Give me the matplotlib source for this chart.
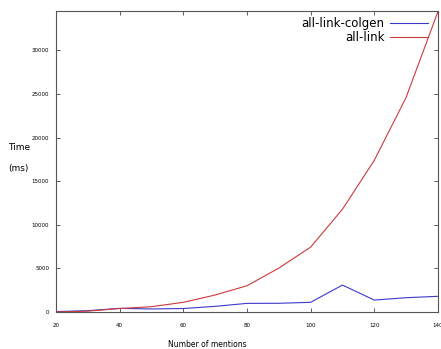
import matplotlib.pyplot as plt

mentions = [20, 30, 40, 50, 60, 70, 80, 90, 100, 110, 120, 130, 140]
all_link_colgen = [50, 150, 420, 350, 400, 650, 990, 1000, 1110, 3090, 1370, 1640, 1800]
all_link = [0, 100, 400, 610, 1110, 1950, 3010, 5030, 7440, 11780, 17390, 24600, 34440]

fig = plt.figure(figsize=(4.41, 3.49), dpi=100)
ax = fig.add_axes([0.127, 0.106, 0.866, 0.862])

ax.plot(mentions, all_link_colgen, color='#3a3acc', lw=0.8, label='all-link-colgen')
ax.plot(mentions, all_link, color='#cc3a3a', lw=0.8, label='all-link')

ax.set_xlim(20, 140)
ax.set_ylim(0, 34500)
ax.set_xticks(range(20, 141, 20))
ax.set_yticks(range(0, 30001, 5000))
ax.tick_params(direction='in', length=3, width=0.6, labelsize=4, top=True, right=True,
               colors='#444444', labelcolor='black')
ax.tick_params(axis='x', pad=8)
ax.tick_params(axis='y', pad=5)
for s in ax.spines.values():
    s.set_linewidth(0.8)
    s.set_color('#555555')

leg = ax.legend(loc='upper right', frameon=False, markerfirst=False, fontsize=8.5,
                handlelength=3.2, borderaxespad=0.1, labelspacing=0.1, handletextpad=0.5,
                bbox_to_anchor=(0.99, 1.0))
for t in leg.get_texts():
    t.set_ha('right')
leg._legend_box.align = 'right'

fig.text(0.018, 0.57, 'Time', fontsize=6.5)
fig.text(0.018, 0.51, '(ms)', fontsize=6.5)
fig.text(0.38, 0.005, 'Number of mentions', fontsize=5.5)

fig.savefig('out.png', dpi=100)
